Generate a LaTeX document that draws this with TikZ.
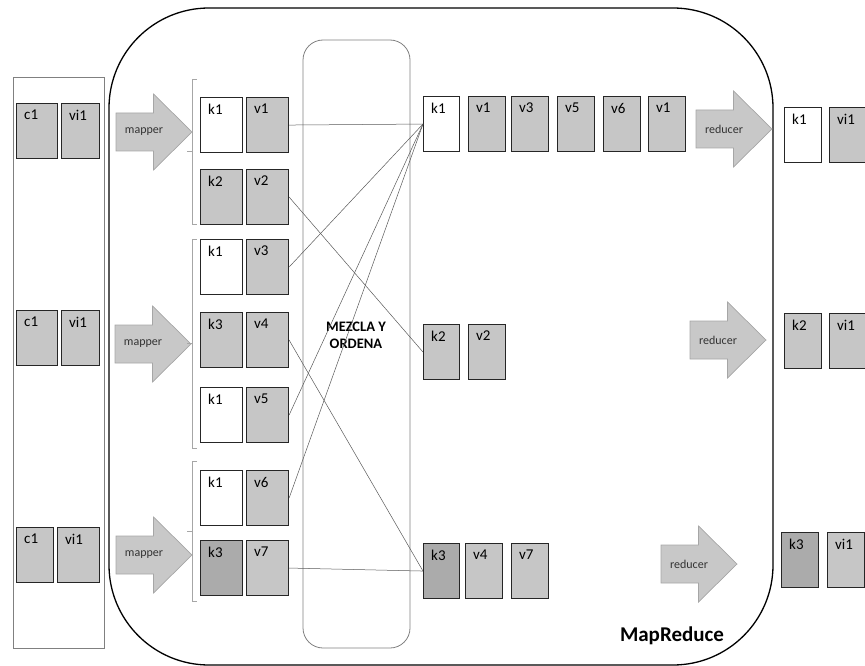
\documentclass[tikz,border=0pt]{standalone}
\usepackage{fontspec}
\setmainfont{Carlito}
\usetikzlibrary{positioning, calc}
\definecolor{grisc}{HTML}{C6C6C6}
\definecolor{griso}{HTML}{ABABAB}
\definecolor{flechag}{HTML}{C8C8C8}
\tikzset{
  celda/.style={draw=black!85, line width=1.1pt, anchor=north west, inner sep=0pt, minimum height=55pt},
  etiq/.style={anchor=north west, inner sep=0pt, xshift=8pt, yshift=-7pt, font=\fontsize{15}{17}\selectfont},
  flecha/.style={draw=black!35, fill=flechag, line width=0.7pt},
  ftxt/.style={font=\fontsize{12}{14}\selectfont, text=black!80},
  enlace/.style={draw=black!65, line width=0.5pt},
  llave/.style={draw=black!35, line width=0.8pt}
}

\begin{document}
\begin{tikzpicture}[x=1pt, y=-1pt]
  \useasboundingbox (0,0) rectangle (865,666);
  % marcos
  \draw[black!50, line width=0.8pt] (13,77) rectangle (104,648);
  \draw[black, line width=1.3pt, rounded corners=100pt] (109,8) rectangle (773,665);
  \draw[black!50, line width=0.8pt, rounded corners=20pt] (303,40) rectangle (410,648);
  \node[font=\bfseries\fontsize{14.5}{17}\selectfont, align=center] (mezcla) at (356,335) {MEZCLA Y\\ORDENA};
  \node[font=\bfseries\fontsize{21}{25}\selectfont] (titulo) at (672,636) {MapReduce};

  % flechas mapper / reducer
  \foreach \nom/\xa/\cy/\txt in {map1/116/132/mapper, map2/115/344/mapper, map3/116/555/mapper,
    red1/696/129/reducer, red2/690/340/reducer, red3/661/564/reducer}
  { \draw[flecha] (\xa,\cy-19) -- ++(37.5,0) -- ++(0,-19) -- ++(38.5,38) -- ++(-38.5,38)
      -- ++(0,-19) -- ++(-37.5,0) -- cycle;
    \node[ftxt] (\nom) at (\xa+28,\cy) {\txt}; }

  % llaves de cada grupo
  \foreach \ya/\yb in {79/224, 239/448, 461/601}
  { \draw[llave] (197,\ya) -| (192,\yb) -- (197,\yb);
    \draw[llave] (187,{(\ya+\yb)/2}) -- (192,{(\ya+\yb)/2}); }

  % celdas: nombre/x/y/ancho/relleno/texto
  \foreach \nom/\xx/\yy/\ww/\relleno/\txt in {
    in1c/16/103/41/grisc/c1, in1v/61/103/38/grisc/vi1,
    in2c/16/310/41/grisc/c1, in2v/61/310/38/grisc/vi1,
    in3c/16/527/37/grisc/c1, in3v/57/527/42/grisc/vi1,
    mk1/200/97/42/white/k1, mv1/246/97/42/grisc/v1,
    mk2/200/169/42/grisc/k2, mv2/246/169/42/grisc/v2,
    mk3/200/239/42/white/k1, mv3/246/239/42/grisc/v3,
    mk4/200/312/42/grisc/k3, mv4/246/312/42/grisc/v4,
    mk5/200/387/42/white/k1, mv5/246/387/42/grisc/v5,
    mk6/200/470/42/white/k1, mv6/246/470/42/grisc/v6,
    mk7/200/540/42/griso/k3, mv7/246/540/42/grisc/v7,
    sk1/423/96/36/white/k1, sv1a/468/96/37/grisc/v1, sv3/511/96/37/grisc/v3,
    sv5/557/96/37/grisc/v5, sv6/603/96/37/grisc/v6, sv1b/648/96/37/grisc/v1,
    sk2/423/324/36/grisc/k2, sv2/468/324/37/grisc/v2,
    sk3/423/543/36/griso/k3, sv4/465/543/37/grisc/v4, sv7/511/543/37/grisc/v7,
    rk1/784/107/37/white/k1, rv1/829/107/37/grisc/vi1,
    rk2/784/313/37/grisc/k2, rv2/829/313/37/grisc/vi1,
    rk3/781/532/37/griso/k3, rv3/827/532/37/grisc/vi1}
  { \node[celda, fill=\relleno, minimum width=\ww pt, label={[etiq]north west:\txt}] (\nom) at (\xx,\yy) {}; }

  % mezcla
  \draw[enlace] (mv1.east) -- (sk1.west);
  \draw[enlace] (mv3.east) -- (sk1.west);
  \draw[enlace] (mv5.east) -- (sk1.west);
  \draw[enlace] (mv6.east) -- (sk1.west);
  \draw[enlace] (mv2.east) -- (sk2.west);
  \draw[enlace] (mv4.east) -- (sk3.west);
  \draw[enlace] (mv7.east) -- (sk3.west);
\end{tikzpicture}
\end{document}
